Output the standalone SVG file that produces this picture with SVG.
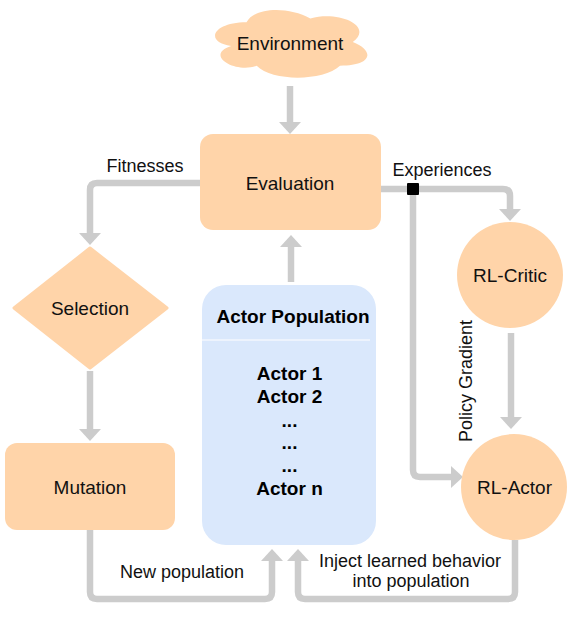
<svg xmlns="http://www.w3.org/2000/svg" width="584" height="620" viewBox="0 0 584 620">
<defs>
<style>
.node{fill:#ffd4a9;}
.lbl{font-family:"Liberation Sans",Arial,sans-serif;font-size:19px;fill:#111;text-anchor:middle;}
.elbl{font-family:"Liberation Sans",Arial,sans-serif;font-size:18px;fill:#111;text-anchor:middle;}
.bold{font-family:"Liberation Sans",Arial,sans-serif;font-size:19px;font-weight:bold;fill:#000;text-anchor:middle;}
.edge{fill:none;stroke:#cccccc;stroke-width:6.5;stroke-linejoin:round;}
</style>
<marker id="arr" markerUnits="userSpaceOnUse" markerWidth="13" markerHeight="22" refX="0" refY="11" orient="auto" overflow="visible">
<path d="M0,0 L12,11 L0,22 z" fill="#cccccc"/>
</marker>
</defs>
<rect width="584" height="620" fill="#ffffff"/>
<g id="connectors">
<path class="edge" d="M290,86 V122" marker-end="url(#arr)"/>
<path class="edge" d="M200,183 H97 Q90,183 90,190 V233" marker-end="url(#arr)"/>
<path class="edge" d="M90,371 V429" marker-end="url(#arr)"/>
<path class="edge" d="M90,530 V592 Q90,599 97,599 H265 Q272,599 272,592 V561" marker-end="url(#arr)"/>
<path class="edge" d="M515,540 V592 Q515,599 508,599 H305 Q298,599 298,592 V561" marker-end="url(#arr)"/>
<path class="edge" d="M291,282 V247" marker-end="url(#arr)"/>
<path class="edge" d="M381,189 H503 Q510,189 510,196 V209" marker-end="url(#arr)"/>
<path class="edge" d="M413,189 V470 Q413,477 420,477 H451" marker-end="url(#arr)"/>
<path class="edge" d="M511,333 V417" marker-end="url(#arr)"/>
<rect x="407" y="183" width="12" height="12" rx="1" fill="#000000"/>
<text class="elbl" x="145" y="172">Fitnesses</text>
<text class="elbl" x="442" y="176">Experiences</text>
<text class="elbl" transform="translate(472,381) rotate(-90)">Policy Gradient</text>
<text class="elbl" x="182" y="578">New population</text>
<text class="elbl" x="410" y="567">Inject learned behavior</text>
<text class="elbl" x="411" y="587">into population</text>
</g>
<g id="environment">
<path class="node" d="M246.5,22.3 C212.5,22.3 204,42 231.2,46 C204,54.7 234.6,73.7 256.7,65.8 C272,81.6 323,81.6 340,65.8 C374,65.8 374,50 352.8,42 C374,26.3 340,10.5 310.3,18.4 C289,6.5 255,6.5 246.5,22.3 Z"/>
<text class="lbl" x="290" y="50">Environment</text>
</g>
<g id="evaluation">
<rect class="node" x="200" y="134" width="181" height="96" rx="13"/>
<text class="lbl" x="290" y="190">Evaluation</text>
</g>
<g id="selection">
<polygon class="node" points="90,248 167,308 90,368 14,308" stroke="#ffd4a9" stroke-width="3" stroke-linejoin="round"/>
<text class="lbl" x="90" y="315">Selection</text>
</g>
<g id="mutation">
<rect class="node" x="5" y="443" width="170" height="87" rx="12"/>
<text class="lbl" x="90" y="494">Mutation</text>
</g>
<g id="actor-population">
<rect x="202" y="285" width="174" height="260" rx="24" fill="#dae8fc"/>
<line x1="202" y1="340" x2="370" y2="340" stroke="#f3f7fe" stroke-width="1.5"/>
<text class="bold" x="293" y="323">Actor Population</text>
<text class="bold" x="289.5" y="380">Actor 1</text>
<text class="bold" x="289.5" y="403">Actor 2</text>
<text class="bold" x="289.5" y="427">...</text>
<text class="bold" x="289.5" y="449">...</text>
<text class="bold" x="289.5" y="472">...</text>
<text class="bold" x="289.5" y="495">Actor n</text>
</g>
<g id="rl-critic">
<circle class="node" cx="510" cy="275" r="53"/>
<text class="lbl" x="510" y="282">RL-Critic</text>
</g>
<g id="rl-actor">
<circle class="node" cx="514" cy="487" r="53"/>
<text class="lbl" x="514.5" y="494">RL-Actor</text>
</g>
</svg>
